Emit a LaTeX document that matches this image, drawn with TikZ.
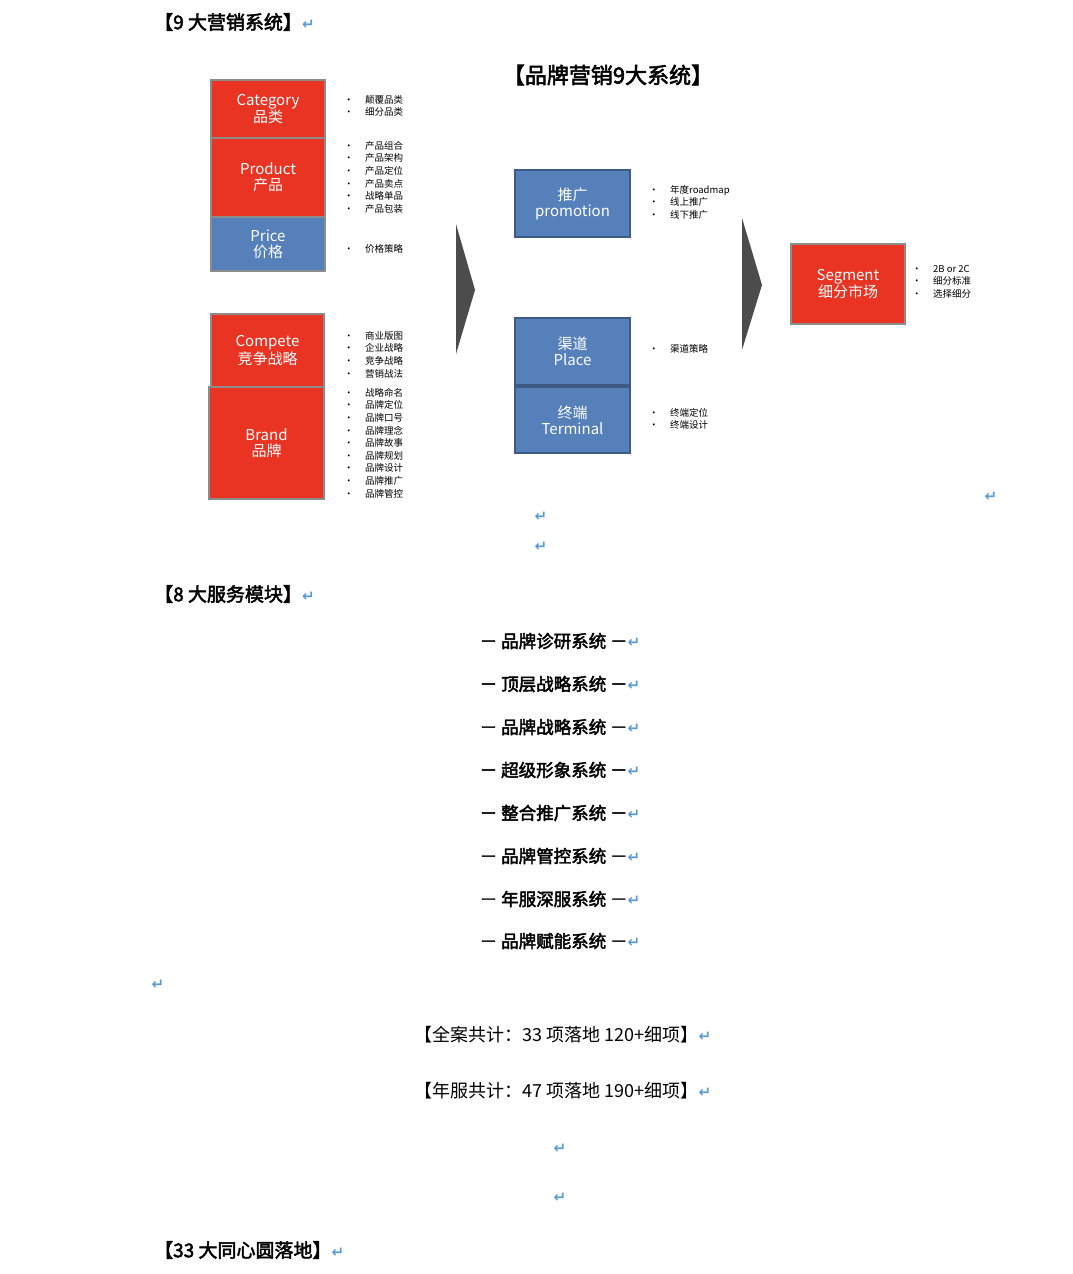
\documentclass[tikz,border=0pt]{standalone}
\usepackage{fontspec}
\newfontfamily\cjk{Noto Sans CJK SC}
\newfontfamily\cjkb{Noto Sans CJK SC}[FakeBold=2.5]
\newfontfamily\sym{DejaVu Sans}
\usetikzlibrary{positioning}
\definecolor{boxred}{HTML}{E93323}
\definecolor{boxblue}{HTML}{5680BA}
\definecolor{retblue}{HTML}{5B9BD5}
\tikzset{
  redbox/.style={draw=gray!90, line width=1.5pt, fill=boxred, text=white, align=center, font=\cjk\fontsize{15}{16}\selectfont, inner sep=0pt},
  bluebox/.style={draw=boxblue!70!black, line width=1.5pt, fill=boxblue, text=white, align=center, font=\cjk\fontsize{15}{16}\selectfont, inner sep=0pt},
  blist/.style={anchor=north west, align=left, font=\cjk\fontsize{9.5}{12.6}\selectfont, inner sep=0pt},
  bigarrow/.style={fill=black!70, draw=none},
  retmark/.style={text=retblue, font=\sym\bfseries\fontsize{15}{15}\selectfont, inner sep=0pt},
  heading/.style={anchor=west, font=\cjkb\fontsize{19}{20}\selectfont, inner sep=0pt},
  service/.style={font=\cjkb\fontsize{17.5}{18}\selectfont, inner sep=0pt},
}
\newcommand{\ret}{{\color{retblue}\sym\bfseries\fontsize{15}{15}\selectfont ↵}}
\newcommand{\blt}[1]{\makebox[21pt][l]{•}#1}
\begin{document}
\begin{tikzpicture}[x=1pt, y=-1pt]
\useasboundingbox (0,0) rectangle (1072,1274);

% headings
\node (h9) [heading] at (154,22) {【9 大营销系统】\ret};
\node (title) [font=\cjkb\fontsize{22}{24}\selectfont, inner sep=0pt] at (608,75) {【品牌营销9大系统】};

% left column
\node (category) [redbox, minimum width=114pt, minimum height=58pt] at (268,109) {Category\\品类};
\node (product) [redbox, minimum width=114pt, minimum height=79pt] at (268,177.5) {Product\\产品};
\node (price) [bluebox, draw=gray!90, minimum width=114pt, minimum height=54pt] at (268,244) {Price\\价格};
\node (compete) [redbox, minimum width=113pt, minimum height=73pt] at (267.5,350.5) {Compete\\竞争战略};
\node (brand) [redbox, minimum width=115pt, minimum height=112pt] at (266.5,443) {Brand\\品牌};

\node (lcat) [blist] at (344,95) {\blt{颠覆品类}\\\blt{细分品类}};
\node (lprod) [blist] at (344,141) {\blt{产品组合}\\\blt{产品架构}\\\blt{产品定位}\\\blt{产品卖点}\\\blt{战略单品}\\\blt{产品包装}};
\node (lprice) [blist] at (344,244) {\blt{价格策略}};
\node (lcomp) [blist] at (344,331) {\blt{商业版图}\\\blt{企业战略}\\\blt{竞争战略}\\\blt{营销战法}};
\node (lbrand) [blist] at (344,388) {\blt{战略命名}\\\blt{品牌定位}\\\blt{品牌口号}\\\blt{品牌理念}\\\blt{品牌故事}\\\blt{品牌规划}\\\blt{品牌设计}\\\blt{品牌推广}\\\blt{品牌管控}};

% arrows
\fill [bigarrow] (456,224) -- (475,290) -- (456,354) -- cycle;
\fill [bigarrow] (742,218) -- (762,285) -- (742,350) -- cycle;

% middle column
\node (promotion) [bluebox, minimum width=115pt, minimum height=67pt] at (572.5,203.5) {推广\\promotion};
\node (place) [bluebox, minimum width=115pt, minimum height=67pt] at (572.5,351.5) {渠道\\Place};
\node (terminal) [bluebox, minimum width=115pt, minimum height=66pt] at (572.5,420) {终端\\Terminal};

\node (lpromo) [blist] at (649,185) {\blt{年度roadmap}\\\blt{线上推广}\\\blt{线下推广}};
\node (lplace) [blist] at (649,344) {\blt{渠道策略}};
\node (lterm) [blist] at (649,408) {\blt{终端定位}\\\blt{终端设计}};

% right column
\node (segment) [redbox, minimum width=114pt, minimum height=80pt] at (848,284) {Segment\\细分市场};
\node (lseg) [blist] at (912,265) {\blt{2B or 2C}\\\blt{细分标准}\\\blt{选择细分}};

% return marks
\node (r1) [retmark] at (991,497) {↵};
\node (r2) [retmark] at (541,517) {↵};
\node (r3) [retmark] at (541,547) {↵};

% services
\node (h8) [heading] at (154,594) {【8 大服务模块】\ret};
\foreach \name [count=\i] in {品牌诊研系统, 顶层战略系统, 品牌战略系统, 超级形象系统, 整合推广系统, 品牌管控系统}
  \node (s\i) [service] at (560,598+43*\i) {－ \name{} －\ret};
\node (s7) [service] at (560,899) {－ 年服深服系统 －\ret};
\node (s8) [service] at (560,941) {－ 品牌赋能系统 －\ret};
\node (r4) [retmark] at (158,985) {↵};

% totals
\node (total1) [font=\cjk\fontsize{18}{19}\selectfont, inner sep=0pt] at (563,1035) {【全案共计：33 项落地 120+细项】\ret};
\node (total2) [font=\cjk\fontsize{18}{19}\selectfont, inner sep=0pt] at (563,1091) {【年服共计：47 项落地 190+细项】\ret};
\node (r5) [retmark] at (560,1149) {↵};
\node (r6) [retmark] at (560,1198) {↵};
\node (h33) [heading] at (154,1250) {【33 大同心圆落地】\ret};
\end{tikzpicture}
\end{document}
